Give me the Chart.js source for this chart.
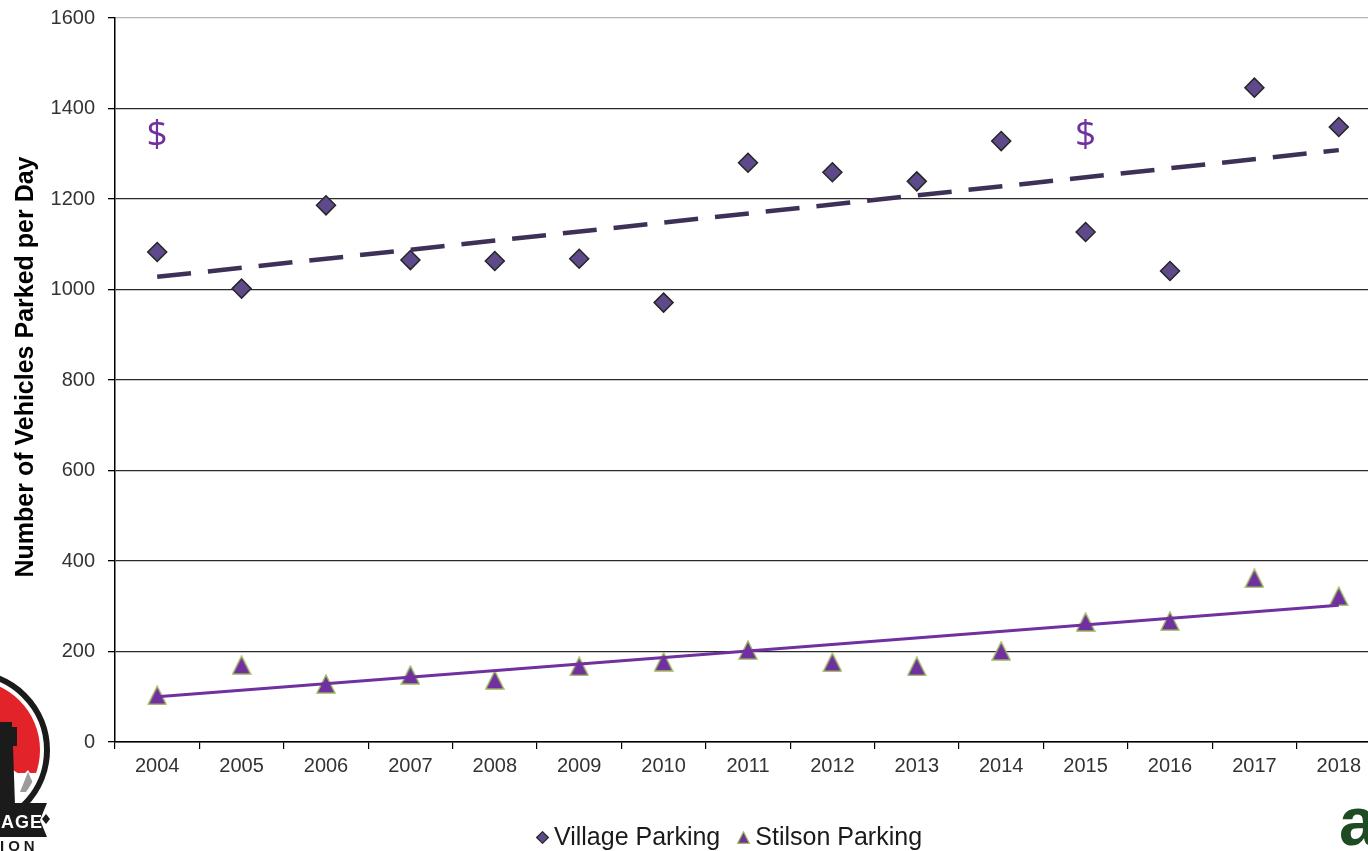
<!DOCTYPE html>
<html>
<head>
<meta charset="utf-8">
<title>Vehicles Parked per Day</title>
<script src="https://cdn.jsdelivr.net/npm/chart.js@4/dist/chart.umd.min.js"></script>
<style>
  html, body { margin: 0; padding: 0; background: #fff; overflow: hidden; }
  #wrap { position: relative; width: 1400px; height: 851px; }
  #chart { position: absolute; left: 0; top: 0; }
  #legend {
    position: absolute; left: 0; top: 821px; width: 1458px;
    display: flex; justify-content: center; align-items: center;
    font-family: "Liberation Sans", Arial, sans-serif; font-size: 25px; color: #1a1a1a;
    line-height: 30px; white-space: nowrap;
  }
  #legend .item { display: flex; align-items: center; }
  #legend .item + .item { margin-left: 17px; }
  #legend svg { margin-right: 5px; margin-top: 3px; }
  #marks { position: absolute; left: 0; top: 0; pointer-events: none; }
</style>
</head>
<body>
<div id="wrap">
  <canvas id="chart" width="1400" height="851"></canvas>
  <div id="legend"></div>
  <svg id="marks" width="1400" height="851" xmlns="http://www.w3.org/2000/svg">
    <defs>
      <clipPath id="badgeInner"><circle cx="-30" cy="750" r="70"/></clipPath>
    </defs>
    <!-- badge, lower left -->
    <circle cx="-30" cy="750" r="77" fill="#fff" stroke="#1b1b1b" stroke-width="6"/>
    <g clip-path="url(#badgeInner)">
      <rect x="-110" y="670" width="190" height="103" fill="#E2232A"/>
      <polygon points="-20,790 10,768 22,776 28,770 38,786 50,800 -20,800" fill="#ffffff"/>
      <polygon points="20,792 28,772 37,792" fill="#9b9b9b"/>
      <polygon points="-40,722 12,722 12,727 17,727 17,746 13,746 15,805 -40,805" fill="#1b1b1b"/>
    </g>
    <polygon points="-10,803 47,803 40,820 47,837 -10,837" fill="#1b1b1b"/>
    <polygon points="46,814 50,819 46,824 42,819" fill="#1b1b1b"/>
    <text x="1" y="828" font-family="Liberation Sans, Arial, sans-serif" font-weight="bold" font-size="18" fill="#ffffff" letter-spacing="1">AGE</text>
    <text x="0" y="851" font-family="Liberation Sans, Arial, sans-serif" font-weight="bold" font-size="15" fill="#1b1b1b" letter-spacing="4">ION</text>
    <!-- mark, lower right -->
    <text x="1339" y="845" font-family="Liberation Sans, Arial, sans-serif" font-weight="bold" font-size="68" fill="#1E4B22">a</text>
  </svg>
</div>
<script>
// ---- data ----
const years = ['2004', '2005', '2006', '2007', '2008', '2009', '2010', '2011',
               '2012', '2013', '2014', '2015', '2016', '2017', '2018'];
const villageParking = [1083, 1002, 1186, 1065, 1063, 1068, 971, 1280,
                        1259, 1239, 1328, 1127, 1041, 1446, 1359];
const stilsonParking = [103, 170, 128, 148, 137, 167, 177, 203,
                        176, 167, 201, 265, 267, 362, 322];
// linear trend values at the first and last year
const villageTrendEnds = [1028, 1308];
const stilsonTrendEnds = [100, 302];
// years flagged with a "$" note, and the level the note sits at
const feeYears = ['2004', '2015'];
const feeLevel = 1340;
const yMin = 0, yMax = 1600, yStep = 200;
const yTitle = 'Number of Vehicles Parked per Day';

const FONT = '"Liberation Sans", Arial, sans-serif';

// trend series: only the end points carry values, the line spans the gap
function endsToSeries(ends) {
  const s = years.map(() => null);
  s[0] = ends[0];
  s[s.length - 1] = ends[1];
  return s;
}

// isosceles triangle marker
function triangleMarker(w, h, fill, stroke, lw) {
  const c = document.createElement('canvas');
  c.width = w; c.height = h;
  const g = c.getContext('2d');
  const p = lw / 2 + 0.3;
  g.beginPath();
  g.moveTo(w / 2, p);
  g.lineTo(w - p, h - p);
  g.lineTo(p, h - p);
  g.closePath();
  g.fillStyle = fill; g.fill();
  g.lineWidth = lw; g.strokeStyle = stroke; g.lineJoin = 'miter'; g.stroke();
  return c;
}
const stilsonTri = triangleMarker(20, 20, '#7030A0', '#9BBB59', 1.4);

// "$" notes above chosen years
const feeNotes = {
  id: 'feeNotes',
  afterDatasetsDraw(chart) {
    const { ctx, scales: { x, y } } = chart;
    ctx.save();
    ctx.fillStyle = '#7030A0';
    ctx.font = '37px "Open Sans", "DejaVu Sans", sans-serif';
    ctx.textAlign = 'center';
    ctx.textBaseline = 'middle';
    feeYears.forEach(yr => {
      ctx.fillText('$', x.getPixelForValue(years.indexOf(yr)), y.getPixelForValue(feeLevel));
    });
    ctx.restore();
  }
};

// rotated value-axis title, centred on its own
const sideTitle = {
  id: 'sideTitle',
  afterDraw(chart) {
    const { ctx, chartArea } = chart;
    ctx.save();
    ctx.translate(26, (chartArea.top + chartArea.bottom) / 2 - 13);
    ctx.rotate(-Math.PI / 2);
    ctx.font = 'bold 25px ' + FONT;
    ctx.fillStyle = '#000';
    ctx.textAlign = 'center';
    ctx.textBaseline = 'middle';
    ctx.fillText(yTitle, 0, 0);
    ctx.restore();
  }
};

const chart = new Chart(document.getElementById('chart'), {
  type: 'line',
  data: {
    labels: years,
    datasets: [
      {
        label: 'Village Parking',
        data: villageParking,
        showLine: false,
        pointStyle: 'rectRot',
        pointRadius: 9.5,
        pointHoverRadius: 9.5,
        pointBackgroundColor: '#5E4A8A',
        pointBorderColor: '#262626',
        pointBorderWidth: 1.5,
        order: 2
      },
      {
        label: 'Stilson Parking',
        data: stilsonParking,
        showLine: false,
        pointStyle: stilsonTri,
        pointRadius: 10,
        pointHoverRadius: 10,
        order: 2
      },
      {
        label: 'Village trend',
        data: endsToSeries(villageTrendEnds),
        spanGaps: true,
        borderColor: '#3E3158',
        borderWidth: 4.5,
        borderDash: [34, 17],
        borderCapStyle: 'butt',
        pointRadius: 0,
        fill: false,
        order: 1
      },
      {
        label: 'Stilson trend',
        data: endsToSeries(stilsonTrendEnds),
        spanGaps: true,
        borderColor: '#7030A0',
        borderWidth: 3,
        pointRadius: 0,
        fill: false,
        order: 1
      }
    ]
  },
  options: {
    responsive: false,
    animation: false,
    devicePixelRatio: 1,
    layout: { padding: { left: 0, top: 18, right: 19, bottom: 0 } },
    plugins: {
      legend: { display: false },
      tooltip: { enabled: false }
    },
    scales: {
      x: {
        type: 'category',
        offset: true,
        grid: {
          offset: true,
          drawOnChartArea: false,
          drawTicks: true,
          tickLength: 7,
          color: '#000',
          lineWidth: 1.2
        },
        border: { display: true, color: '#000', width: 1.5 },
        ticks: {
          color: '#333',
          font: { family: FONT, size: 20 },
          padding: 5,
          maxRotation: 0,
          autoSkip: false
        },
        afterFit(s) { s.height = 109; s.paddingLeft = 0; s.paddingRight = 0; }
      },
      y: {
        min: yMin,
        max: yMax,
        ticks: {
          stepSize: yStep,
          color: '#333',
          font: { family: FONT, size: 20 },
          padding: 13,
          callback: v => String(v)
        },
        grid: {
          drawTicks: true,
          tickLength: 7,
          tickColor: '#000',
          lineWidth: 1.3,
          color: c => (c.tick && c.tick.value === yMax) ? '#b5b5b5' : '#2a2a2a'
        },
        border: { display: true, color: '#000', width: 1.5 },
        afterFit(s) { s.width = 115; s.paddingTop = 0; s.paddingBottom = 0; }
      }
    }
  },
  plugins: [feeNotes, sideTitle]
});

// legend row built from the two measured series
(function buildLegend() {
  const box = document.getElementById('legend');
  const shapes = {
    'Village Parking': '<svg width="13" height="13" viewBox="0 0 13 13"><polygon points="6.5,0.7 12.3,6.5 6.5,12.3 0.7,6.5" fill="#5E4A8A" stroke="#262626" stroke-width="1.2"/></svg>',
    'Stilson Parking': '<svg width="13" height="13" viewBox="0 0 13 13"><polygon points="6.5,0.8 12.3,12.3 0.7,12.3" fill="#7030A0" stroke="#9BBB59" stroke-width="1.2"/></svg>'
  };
  chart.data.datasets.slice(0, 2).forEach(ds => {
    const item = document.createElement('span');
    item.className = 'item';
    item.innerHTML = shapes[ds.label];
    const t = document.createElement('span');
    t.textContent = ds.label;
    item.appendChild(t);
    box.appendChild(item);
  });
})();
</script>
</body>
</html>
